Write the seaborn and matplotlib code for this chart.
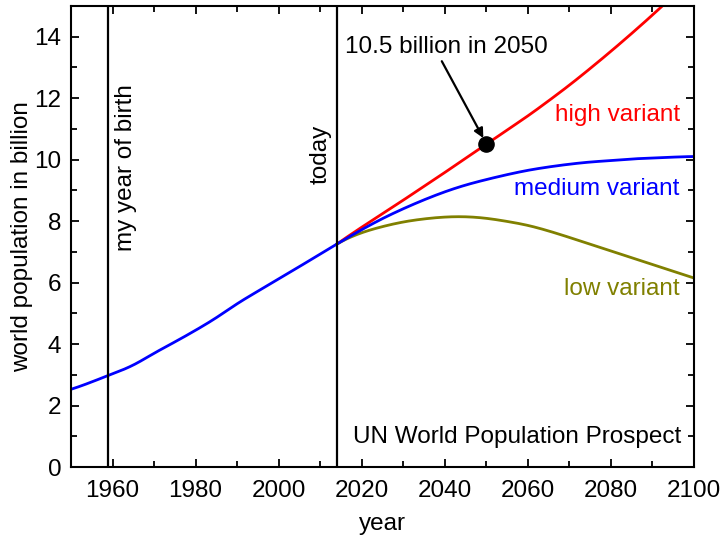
import numpy as np
import pandas as pd
import matplotlib
matplotlib.use("Agg")
import matplotlib.pyplot as plt
from matplotlib.ticker import MultipleLocator
from scipy.interpolate import CubicSpline
import seaborn as sns

# World population (billion), UN World Population Prospects
hist_years = [1950, 1955, 1959, 1965, 1970, 1975, 1980, 1985, 1990, 1995, 2000, 2005, 2010, 2014]
hist_pop = [2.53, 2.77, 2.98, 3.32, 3.70, 4.07, 4.45, 4.86, 5.31, 5.72, 6.12, 6.52, 6.93, 7.25]

proj_years = [2014, 2020, 2025, 2030, 2035, 2040, 2045, 2050, 2055, 2060, 2065,
              2070, 2075, 2080, 2085, 2090, 2095, 2100]
high_pop = [7.25, 7.80, 8.24, 8.68, 9.13, 9.58, 10.04, 10.50, 10.96, 11.42, 11.91,
            12.42, 12.96, 13.52, 14.10, 14.70, 15.32, 15.95]
medium_pop = [7.25, 7.72, 8.08, 8.40, 8.69, 8.95, 9.17, 9.35, 9.51, 9.65, 9.76,
              9.85, 9.92, 9.97, 10.02, 10.05, 10.08, 10.10]
low_pop = [7.25, 7.62, 7.82, 7.97, 8.07, 8.13, 8.14, 8.09, 7.99, 7.86, 7.68,
           7.47, 7.25, 7.03, 6.81, 6.59, 6.37, 6.15]

birth_year = 1959
today_year = 2014
marker_year, marker_pop = 2050, 10.5

sns.set_style("ticks")
plt.rcParams["font.family"] = ["Liberation Sans", "DejaVu Sans"]
FS = 17.5
plt.rcParams.update({
    "font.size": FS,
    "text.color": "black",
    "axes.labelcolor": "black",
    "xtick.color": "black",
    "ytick.color": "black",
})

fig = plt.figure(figsize=(7.25, 5.35), dpi=100)
ax = fig.add_axes([0.098, 0.127, 0.859, 0.862])

df = pd.concat([
    pd.DataFrame({"year": proj_years, "pop": high_pop, "variant": "high"}),
    pd.DataFrame({"year": proj_years, "pop": low_pop, "variant": "low"}),
    pd.DataFrame({"year": proj_years, "pop": medium_pop, "variant": "medium"}),
    pd.DataFrame({"year": hist_years, "pop": hist_pop, "variant": "past"}),
])
palette = {"high": "#ff0000", "low": "#808000", "medium": "#0000ff", "past": "#0000ff"}

for name in ["high", "low", "medium", "past"]:
    sub = df[df["variant"] == name]
    # smooth curve through the sampled values
    xs = np.linspace(sub["year"].min(), sub["year"].max(), 300)
    ys = CubicSpline(sub["year"].values, sub["pop"].values)(xs)
    sns.lineplot(x=xs, y=ys, color=palette[name], lw=2, ax=ax)

ax.axvline(birth_year, color="black", lw=1.6)
ax.axvline(today_year, color="black", lw=1.6)

ax.scatter([marker_year], [marker_pop], s=120, color="black", zorder=5)
ax.annotate("", xy=(marker_year - 0.7, marker_pop + 0.2),
            xytext=(2039.3, 13.2),
            arrowprops=dict(arrowstyle="-|>", color="black", lw=1.6,
                            shrinkA=0, shrinkB=0, mutation_scale=14))
ax.text(2016.0, 13.65, "10.5 billion in 2050", ha="left", va="center", fontsize=FS)

ax.text(birth_year + 4.3, 12.45, "my year of birth", rotation=90, ha="center", va="top", fontsize=FS)
ax.text(today_year - 3.8, 11.15, "today", rotation=90, ha="center", va="top", fontsize=FS)
ax.text(2096.6, 11.45, "high variant", color="#ff0000", ha="right", va="center", fontsize=FS)
ax.text(2096.6, 9.05, "medium variant", color="#0000ff", ha="right", va="center", fontsize=FS)
ax.text(2096.6, 5.8, "low variant", color="#808000", ha="right", va="center", fontsize=FS)
ax.text(2097.0, 0.97, "UN World Population Prospect", ha="right", va="center", fontsize=FS)

ax.set_xlim(1950, 2100)
ax.set_ylim(0, 15)
ax.xaxis.set_major_locator(MultipleLocator(20))
ax.xaxis.set_minor_locator(MultipleLocator(10))
ax.yaxis.set_major_locator(MultipleLocator(2))
ax.yaxis.set_minor_locator(MultipleLocator(1))
ax.tick_params(which="both", direction="in", top=True, right=True, width=1.3,
               colors="black", labelsize=FS)
ax.tick_params(which="major", length=6)
ax.tick_params(axis="x", which="major", pad=9)
ax.tick_params(axis="y", which="major", pad=7)
ax.tick_params(which="minor", length=4)
for s in ax.spines.values():
    s.set_linewidth(1.5)
    s.set_color("black")
ax.set_xlabel("year", fontsize=FS, labelpad=8)
ax.set_ylabel("world population in billion", fontsize=FS, labelpad=1)

fig.savefig("out.png", dpi=100)
